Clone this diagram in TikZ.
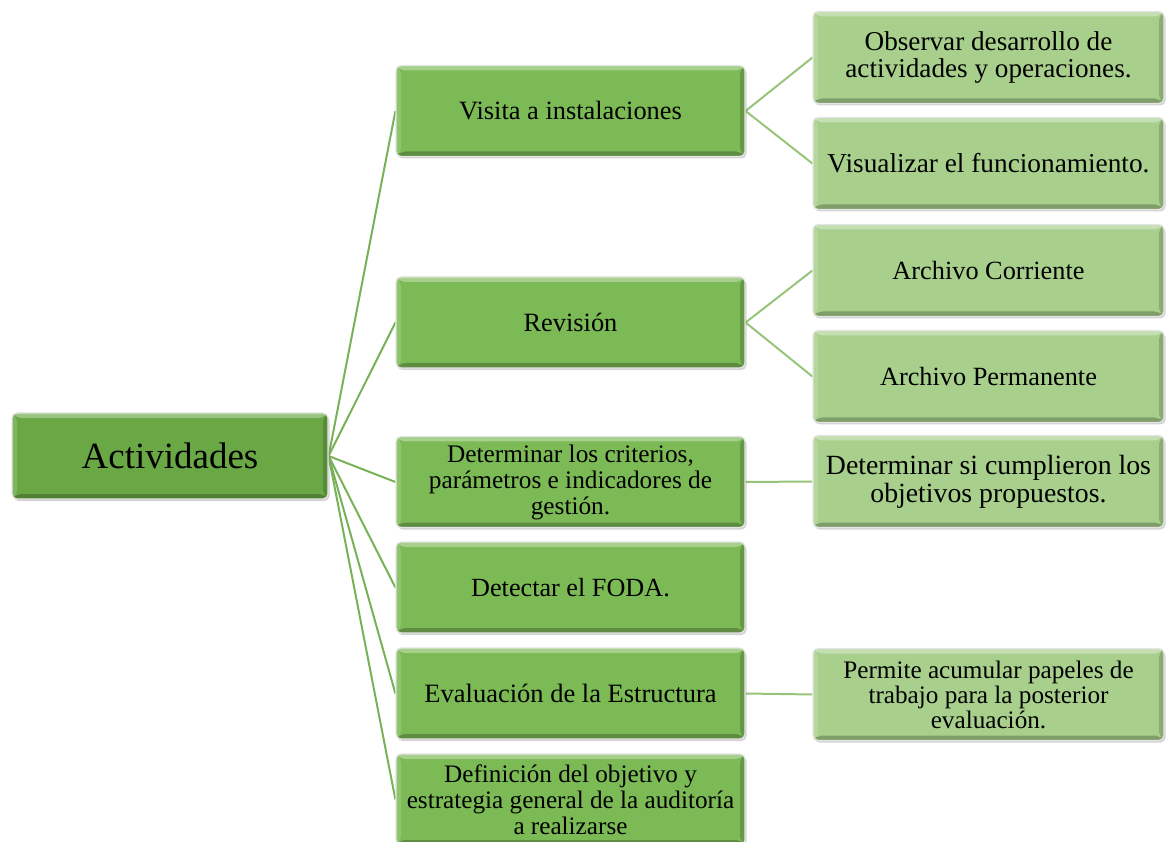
\documentclass[tikz,border=0pt]{standalone}
\usepackage{fontspec}
\setmainfont{Liberation Serif}
\usetikzlibrary{shadows,backgrounds}

\definecolor{rootgreen}{RGB}{106,168,70}
\definecolor{midgreen}{RGB}{124,186,86}
\definecolor{leafgreen}{RGB}{168,208,140}
\definecolor{trunkline}{RGB}{120,178,88}
\definecolor{twigline}{RGB}{150,197,122}

\tikzset{
  bevelbox/.style={
    rectangle, rounded corners=5pt, fill=#1, draw=black!10, line width=1.2pt,
    drop shadow={opacity=0.35, shadow xshift=1.5pt, shadow yshift=-2pt},
    align=center, inner sep=0pt, text=black,
    path picture={
      \coordinate (bbnw) at (path picture bounding box.north west);
      \coordinate (bbse) at (path picture bounding box.south east);
      \coordinate (bbne) at (bbnw -| bbse);
      \coordinate (bbsw) at (bbnw |- bbse);
      % raised edges: light top and left, dark bottom and right
      \fill[#1!68!white] (bbnw) -- (bbne) -- ([shift={(-5pt,-5pt)}]bbne)
        -- ([shift={(5pt,-5pt)}]bbnw) -- cycle;
      \fill[#1!85!white] (bbnw) -- ([shift={(5pt,-5pt)}]bbnw)
        -- ([shift={(5pt,5pt)}]bbsw) -- (bbsw) -- cycle;
      \fill[#1!76!black] (bbsw) -- ([shift={(5pt,5pt)}]bbsw)
        -- ([shift={(-5pt,5pt)}]bbse) -- (bbse) -- cycle;
      \fill[#1!82!black] (bbne) -- ([shift={(-5pt,-5pt)}]bbne)
        -- ([shift={(-5pt,5pt)}]bbse) -- (bbse) -- cycle;
    }
  },
  rootbox/.style={bevelbox=rootgreen, minimum width=316pt, minimum height=86pt},
  midbox/.style={bevelbox=midgreen, minimum width=349pt, minimum height=91pt},
  leafbox/.style={bevelbox=leafgreen, minimum width=351pt, minimum height=92pt},
  trunk/.style={draw=trunkline, line width=2pt},
  twig/.style={draw=twigline, line width=2pt}
}

\begin{document}
\begin{tikzpicture}[x=1pt, y=-1pt]
\useasboundingbox (0,0) rectangle (1171,842);

% root
\node[rootbox, font=\fontsize{37}{40}\selectfont] (act) at (170,456) {Actividades};

% second level
\node[midbox, font=\fontsize{26.4}{28}\selectfont] (visita) at (570.5,111) {Visita a instalaciones};
\node[midbox, font=\fontsize{26.4}{28}\selectfont] (revision) at (570.5,322.5) {Revisión};
\node[midbox, font=\fontsize{25.3}{26}\selectfont] (criterios) at (570.5,482)
  {Determinar los criterios,\\parámetros e indicadores de\\gestión.};
\node[midbox, font=\fontsize{26.2}{28}\selectfont] (foda) at (570.5,587.5) {Detectar el FODA.};
\node[midbox, font=\fontsize{26.5}{28}\selectfont] (estructura) at (570.5,693.5) {Evaluación de la Estructura};
\node[midbox, font=\fontsize{25.2}{26}\selectfont] (definicion) at (570.5,799.5)
  {Definición del objetivo y\\estrategia general de la auditoría\\a realizarse};

% third level
\node[leafbox, font=\fontsize{27.2}{27}\selectfont] (observar) at (988.5,57.5)
  {Observar desarrollo de\\actividades y operaciones.};
\node[leafbox, font=\fontsize{27.3}{28}\selectfont] (visualizar) at (988.5,163.5) {Visualizar el funcionamiento.};
\node[leafbox, font=\fontsize{26.3}{28}\selectfont] (corriente) at (988.5,270.5) {Archivo Corriente};
\node[leafbox, font=\fontsize{26.3}{28}\selectfont] (permanente) at (988.5,376.5) {Archivo Permanente};
\node[leafbox, font=\fontsize{27.8}{28}\selectfont] (cumplieron) at (988.5,481.5)
  {Determinar si cumplieron los\\objetivos propuestos.};
\node[leafbox, font=\fontsize{25.2}{25}\selectfont] (papeles) at (988.5,694.5)
  {Permite acumular papeles de\\trabajo para la posterior\\evaluación.};

% connectors
\begin{scope}[on background layer]
  \foreach \child in {visita,revision,criterios,foda,estructura,definicion}
    \draw[trunk] (act.east) -- (\child.west);
  \draw[twig] (visita.east) -- (observar.west);
  \draw[twig] (visita.east) -- (visualizar.west);
  \draw[twig] (revision.east) -- (corriente.west);
  \draw[twig] (revision.east) -- (permanente.west);
  \draw[twig] (criterios.east) -- (cumplieron.west);
  \draw[twig] (estructura.east) -- (papeles.west);
\end{scope}
\end{tikzpicture}
\end{document}
